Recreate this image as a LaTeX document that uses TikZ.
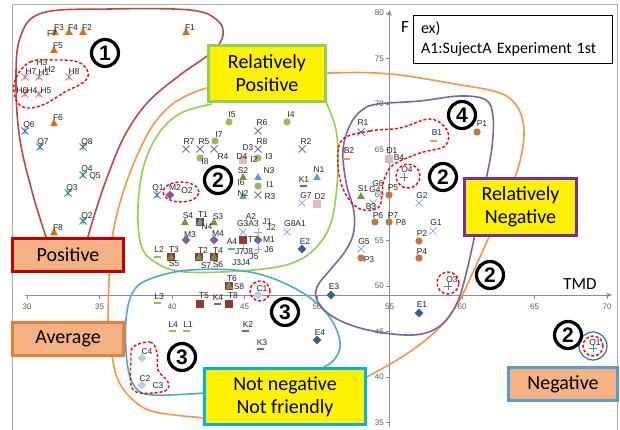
\documentclass[tikz,border=0pt]{standalone}
\usepackage{fontspec}
\setmainfont{Liberation Sans}
\newfontfamily\calfont{Carlito}
\usetikzlibrary{arrows.meta}
\definecolor{cF}{HTML}{E46C0A}
\definecolor{cH}{HTML}{D07C7A}
\definecolor{cQ}{HTML}{31859C}
\definecolor{cR}{HTML}{8064A2}
\definecolor{cI}{HTML}{9BBB59}
\definecolor{cD}{HTML}{E6B9B8}
\definecolor{cS}{HTML}{77933C}
\definecolor{cN}{HTML}{4BACC6}
\definecolor{cK}{HTML}{C0504D}
\definecolor{cG}{HTML}{8EB4E3}
\definecolor{cO}{HTML}{4F81BD}
\definecolor{cM}{HTML}{7F5FA8}
\definecolor{cT}{HTML}{953735}
\definecolor{cJ}{HTML}{B3A2C7}
\definecolor{cL}{HTML}{9BBB59}
\definecolor{cE}{HTML}{376092}
\definecolor{cC}{HTML}{B9CDE5}
\definecolor{cB}{HTML}{F79646}
\definecolor{cP}{HTML}{C4773A}
\definecolor{axgray}{HTML}{8C8C8C}
\definecolor{numgray}{HTML}{595959}
\definecolor{curRed}{HTML}{B94A48}
\definecolor{curOrange}{HTML}{F79646}
\definecolor{curGreen}{HTML}{92D050}
\definecolor{curCyan}{HTML}{4BACC6}
\definecolor{curPurple}{HTML}{8064A2}
\definecolor{salmon}{HTML}{F4B183}
\definecolor{bxRed}{HTML}{C00000}
\definecolor{bxOrange}{HTML}{ED7D31}
\definecolor{bxGreen}{HTML}{92D050}
\definecolor{bxCyan}{HTML}{00B0F0}
\definecolor{bxPurple}{HTML}{7030A0}
\definecolor{bxBlue}{HTML}{5B9BD5}
\definecolor{ringBlue}{HTML}{2E75B6}
\newcommand\mTri[3]{\fill[#3] (#1,#2) ++(-3.8,3) -- ++(7.6,0) -- ++(-3.8,-7) -- cycle;}
\newcommand\mCir[3]{\fill[#3] (#1,#2) circle (3.6pt);}
\newcommand\mSq[3]{\fill[#3] (#1,#2) ++(-3.6,-3.6) rectangle ++(7.2,7.2);}
\newcommand\mDia[3]{\fill[#3] (#1,#2) ++(0,-4.3) -- ++(4.3,4.3) -- ++(-4.3,4.3) -- ++(-4.3,-4.3) -- cycle;}
\newcommand\mX[3]{\draw[#3,line width=0.9pt] (#1,#2) ++(-3.5,-3.5) -- ++(7,7) ++(0,-7) -- ++(-7,7);}
\newcommand\mSt[3]{\draw[#3,line width=0.9pt] (#1,#2) ++(-3.5,-3.5) -- ++(7,7) ++(0,-7) -- ++(-7,7) ++(3.5,0) -- ++(0,-7);}
\newcommand\mPl[3]{\draw[#3,line width=0.9pt] (#1,#2) ++(-4,0) -- ++(8,0) ++(-4,-4) -- ++(0,8);}
\newcommand\mDa[3]{\fill[#3] (#1,#2) ++(-3.5,-1.2) rectangle ++(7,2.4);}
\newcommand\lb[3]{\node[lbl] (n#3) at (#1,#2) {#3};}
\begin{document}
\begin{tikzpicture}[x=1pt,y=-1pt,
  lbl/.style={font=\fontsize{8.5}{8.5}\selectfont, inner sep=0pt, text=black!85},
  axisline/.style={axgray, line width=0.8pt},
  axnum/.style={font=\fontsize{8}{8}\selectfont, text=numgray, inner sep=0pt},
  region/.style={line width=1.6pt},
  reddash/.style={red, line width=1.4pt, dash pattern=on 3pt off 2pt},
  bigbox/.style={draw, line width=2.6pt, font=\calfont\fontsize{20}{23}\selectfont, align=center, inner sep=0pt},
  cnum/.style={circle, draw=black, line width=3.2pt, minimum size=27pt, inner sep=0pt, fill=white, font=\bfseries\fontsize{21}{21}\selectfont}]
\useasboundingbox (0,0) rectangle (620,430);
\fill[white] (0,0) rectangle (620,430);
\draw[axgray!70, line width=0.8pt] (12,432) -- (12,4) -- (617,4) -- (617,432);
% axes
\coordinate (xa0) at (25,295); \coordinate (xa1) at (612,295);
\coordinate (ya0) at (389.5,427); \coordinate (ya1) at (389.5,10);
\draw[axisline,-{Stealth[length=6pt,width=5pt]}] (xa0) -- (xa1);
\draw[axisline,-{Stealth[length=6pt,width=5pt]}] (ya0) -- (ya1);
\foreach \v in {30,35,...,70} {
  \draw[axisline] ({27+(\v-30)*14.5},295) -- ++(0,4);
  \node[axnum] at ({27+(\v-30)*14.5},307) {\v};
}
\foreach \v in {35,40,...,80} {
  \draw[axisline] (385.5,{286-(\v-50)*9.1}) -- ++(4,0);
  \node[axnum,anchor=east] at (384,{286-(\v-50)*9.1}) {\v};
}
\node[font=\calfont\fontsize{17}{17}\selectfont, inner sep=0pt] (tmd) at (580,284) {TMD};
\node[font=\calfont\fontsize{17}{17}\selectfont, inner sep=0pt] (fax) at (405,27) {F};
% region curves
\draw[region, curRed] plot[smooth, tension=0.6] coordinates {(47,240) (33,195) (20,140) (16,85) (20,38) (42,13) (110,9) (190,10) (217,20) (223,35) (212,52) (180,75) (148,102) (125,135) (108,175) (96,210) (87,240)};
\draw[region, curOrange] plot[smooth, tension=0.6] coordinates {(108,323) (109,280) (112,240) (118,210) (128,178) (141,147) (156,121) (177,101) (210,87) (260,78) (330,73) (390,74) (455,84) (500,93) (518,108) (524,132) (519,165) (505,202) (490,235) (474,270) (458,303) (437,330) (405,355) (365,378)};
\draw[region, curOrange] plot[smooth, tension=0.6] coordinates {(112,355) (118,380) (133,400) (155,412) (205,418)};
\draw[region, curGreen] plot[smooth, tension=0.6] coordinates {(212,104) (181,113) (159,133) (144,165) (138,207) (141,245) (155,262) (185,272) (253,270) (295,262) (320,243) (333,215) (338,167) (336,130) (326,102)};
\draw[region, curCyan] plot[smooth, tension=0.6] coordinates {(205,393) (153,395) (135,387) (127,362) (126,320) (133,292) (150,279) (190,270) (250,272) (298,290) (328,315) (340,342) (334,360) (318,370)};
\draw[region, curPurple] plot[smooth cycle, tension=0.6] coordinates {(492,147) (493,117) (486,100) (460,96) (420,101) (378,104) (362,110) (350,125) (343,150) (346,182) (354,212) (353,235) (344,253) (330,270) (317,287) (318,302) (335,318) (368,330) (413,335) (440,326) (457,303) (467,270) (478,220) (486,180)};
% F
\mTri{55}{32}{cF} \mTri{69}{32}{cF} \mTri{83}{32}{cF} \mTri{186}{32}{cF} \mTri{54}{50}{cF} \mTri{54}{123}{cF} \mTri{54}{232}{cF}
\lb{52}{34}{F7} \lb{59}{28}{F3} \lb{73}{28}{F4} \lb{87}{28}{F2} \lb{190}{28}{F1} \lb{58}{46}{F5} \lb{58}{118}{F6} \lb{58}{228}{F8}
% H
\mSt{25}{77}{cH} \mSt{39}{77}{cH} \mSt{69}{77}{cH} \mSt{25}{94}{cH} \mSt{39}{94}{cH}
\lb{42}{63}{H3} \lb{31}{72}{H7} \lb{44}{73}{H1} \lb{50}{70}{H2} \lb{74}{72}{H8} \lb{22}{91}{H6} \lb{32}{91}{H4} \lb{46}{91}{H5}
% Q
\mSt{25}{131}{cQ} \mSt{40}{147}{cQ} \mSt{83}{147}{cQ} \mSt{83}{175}{cQ} \mSt{68}{193}{cQ} \mSt{83}{221}{cQ} \mSt{157}{195}{cQ}
\lb{29}{125}{Q6} \lb{43}{142}{Q7} \lb{87}{142}{Q8} \lb{87}{169}{Q4} \lb{95}{176}{Q5} \lb{72}{188}{Q3} \lb{87}{216}{Q2} \lb{158}{188}{Q1}
% R
\mX{186}{149}{cR} \mX{200}{149}{cR} \mX{214}{149}{cR} \mX{258}{149}{cR} \mX{258}{131}{cR} \mX{302}{149}{cR} \mX{258}{195}{cR} \mX{361}{132}{cR}
\lb{189}{142}{R7} \lb{204}{142}{R5} \lb{223}{157}{R4} \lb{262}{142}{R8} \lb{262}{123}{R6} \lb{306}{142}{R2} \lb{270}{197}{R3} \lb{363}{123}{R1}
% I
\mCir{229}{122}{cI} \mCir{287}{122}{cI} \mCir{215}{141}{cI} \mCir{200}{158}{cI} \mCir{258}{158}{cI} \mCir{258}{186}{cI}
\lb{232}{115}{I5} \lb{291}{115}{I4} \lb{219}{135}{I7} \lb{205}{162}{I8} \lb{254}{160}{I2} \lb{269}{157}{I3} \lb{270}{185}{I1} \lb{241}{183}{I6}
% D
\mSq{243}{160}{cD} \mSq{317}{204}{cD} \mSq{389}{159}{cD}
\lb{248}{148}{D3} \lb{242}{157}{D4} \lb{320}{197}{D2} \lb{392}{151}{D1} \lb{399}{158}{B4}
% S
\mTri{243}{177}{cS} \mTri{185}{222}{cS} \mTri{214}{222}{cS} \mTri{361}{196}{cS}
\lb{243}{171}{S2} \lb{188}{216}{S4} \lb{218}{217}{S3} \lb{363}{189}{S1}
% T
\mSq{200}{222}{cT} \mTri{200}{222}{cN}
\mSq{171}{257}{cT} \mTri{171}{257}{cS}
\mSq{199}{257}{cT} \mTri{199}{257}{cS}
\mSq{214}{257}{cT} \mTri{214}{257}{cS}
\mSq{229}{286}{cT} \mTri{229}{286}{cS}
\mSq{243}{240}{cT} \mSq{200}{304}{cT} \mSq{229}{304}{cT}
\lb{203}{215}{T1} \lb{207}{227}{N4} \lb{174}{250}{T3} \lb{174}{264}{S5} \lb{203}{251}{T2} \lb{206}{266}{S7} \lb{218}{251}{T4} \lb{218}{265}{S6} \lb{232}{279}{T6} \lb{239}{287}{S8} \lb{253}{240}{T7} \lb{204}{296}{T5} \lb{233}{296}{T8}
% N
\mTri{258}{177}{cN} \mTri{317}{177}{cN} \mTri{243}{196}{cN}
\lb{269}{171}{N3} \lb{319}{170}{N1} \lb{243}{194}{N2}
% K
\mDa{303}{186}{cK} \mDa{217}{304}{cK} \mDa{245}{331}{cK} \mDa{260}{349}{cK}
\lb{304}{180}{K1} \lb{218}{298}{K4} \lb{248}{325}{K2} \lb{262}{343}{K3}
% G
\mX{302}{203}{cG} \mX{243}{232}{cG} \mX{287}{232}{cG} \mX{373}{203}{cG} \mX{419}{203}{cG} \mX{433}{231}{cG} \mX{361}{249}{cG}
\lb{306}{196}{G7} \lb{248}{224}{G3A3} \lb{295}{224}{G8A1} \lb{375}{190}{G4} \lb{378}{184}{G6} \lb{422}{196}{G2} \lb{436}{223}{G1} \lb{364}{242}{G5}
% O
\mPl{404}{177}{cO} \mPl{448}{286}{cO} \mPl{593}{348}{cO}
\lb{187}{191}{O2} \lb{407}{170}{O4} \lb{452}{280}{O3} \lb{595}{343}{O1}
% M
\mDia{170}{195}{cM} \mDia{186}{240}{cM} \mDia{214}{240}{cM} \mDia{258}{240}{cM}
\lb{175}{188}{M2} \lb{190}{235}{M3} \lb{218}{234}{M4} \lb{269}{240}{M1}
% A, J
\mPl{258}{232}{cJ} \mPl{258}{249}{cJ} \mPl{243}{248}{cJ}
\mDa{231}{249}{cN}
\lb{251}{217}{A2} \lb{267}{222}{J1} \lb{271}{228}{J2} \lb{232}{242}{A4} \lb{269}{250}{J6} \lb{244}{252}{J7J8} \lb{254}{257}{J5} \lb{241}{263}{J3J4}
% L
\mDa{157}{257}{cL} \mDa{157}{303}{cL} \mDa{172}{331}{cL} \mDa{186}{331}{cL}
\lb{159}{250}{L2} \lb{159}{297}{L3} \lb{173}{325}{L4} \lb{188}{325}{L1}
% E
\mDia{302}{249}{cE} \mDia{331}{295}{cE} \mDia{317}{340}{cE} \mDia{419}{313}{cE}
\lb{305}{242}{E2} \lb{334}{287}{E3} \lb{320}{333}{E4} \lb{422}{305}{E1}
% C
\mDia{258}{295}{cC} \mDia{142}{358}{cC} \mDia{142}{385}{cC}
\lb{262}{289}{C1} \lb{147}{352}{C4} \lb{145}{379}{C2} \lb{158}{386}{C3}
% B
\mDa{433}{141}{cB} \mDa{346}{159}{cB}
\lb{437}{133}{B1} \lb{349}{151}{B2} \lb{371}{207}{B3}
% P
\mCir{477}{132}{cP} \mCir{389}{195}{cP} \mCir{375}{222}{cP} \mCir{389}{222}{cP} \mCir{419}{241}{cP} \mCir{361}{258}{cP} \mCir{419}{258}{cP}
\lb{482}{124}{P1} \lb{393}{188}{P5} \lb{378}{216}{P6} \lb{393}{216}{P7} \lb{401}{223}{P8} \lb{422}{234}{P2} \lb{369}{260}{P3} \lb{422}{252}{P4}
% dashed groups
\draw[reddash] plot[smooth cycle, tension=0.6] coordinates {(15,80) (30,62) (55,60) (78,62) (88,72) (84,82) (65,92) (45,104) (27,108) (16,100)};
\draw[reddash] (181,192) ellipse [x radius=18pt, y radius=10pt];
\draw[reddash] plot[smooth cycle, tension=0.6] coordinates {(342,140) (370,131) (400,128) (430,119) (447,130) (445,146) (420,153) (393,165) (384,180) (382,195) (378,208) (360,209) (345,193) (338,167)};
\draw[reddash] (408,176) circle (12pt);
\draw[reddash] (260,291) circle (10pt);
\draw[reddash] (448,283) circle (11pt);
\draw[reddash] (593,346) circle (10pt);
\draw[ringBlue, line width=1.2pt] (593,346) circle (14pt);
\draw[reddash] plot[smooth cycle, tension=0.6] coordinates {(133,347) (150,342) (157,352) (158,370) (168,382) (165,391) (140,393) (131,385) (131,360)};
% boxes
\node[bigbox, draw=bxGreen, fill=yellow, minimum width=117pt, minimum height=56pt] (rp) at (267,73.5) {Relatively\\Positive};
\node[bigbox, draw=bxPurple, fill=yellow, minimum width=112pt, minimum height=57pt] (rn) at (520.5,207) {Relatively\\Negative};
\node[bigbox, draw=bxRed, fill=salmon, minimum width=111pt, minimum height=33pt] (pos) at (68,255) {Positive};
\node[bigbox, draw=bxOrange, fill=salmon, minimum width=111pt, minimum height=33pt] (avg) at (68,339) {Average};
\node[bigbox, draw=bxCyan, fill=yellow, minimum width=161pt, minimum height=56pt] (nnf) at (285,396.5) {Not negative\\Not friendly};
\node[bigbox, draw=bxBlue, fill=salmon, minimum width=109pt, minimum height=33pt] (neg) at (563,384) {Negative};
\node[draw=black, line width=0.9pt, fill=white, minimum width=198pt, minimum height=48pt, text width=183pt, inner xsep=8pt, inner ysep=0pt, align=left, font=\calfont\fontsize{16}{20}\selectfont] (legend) at (512.5,39.5) {ex)\\A1:SujectA Experiment\hspace{5pt}1st};
% circled numbers
\node[cnum] (c1) at (105,53) {1};
\node[cnum] (c2a) at (218,180) {2};
\node[cnum] (c2b) at (443,177) {2};
\node[cnum] (c4) at (462,115) {4};
\node[cnum] (c2c) at (490,275) {2};
\node[cnum] (c2d) at (568,335) {2};
\node[cnum] (c3a) at (285,312) {3};
\node[cnum] (c3b) at (182,357) {3};
\end{tikzpicture}
\end{document}
